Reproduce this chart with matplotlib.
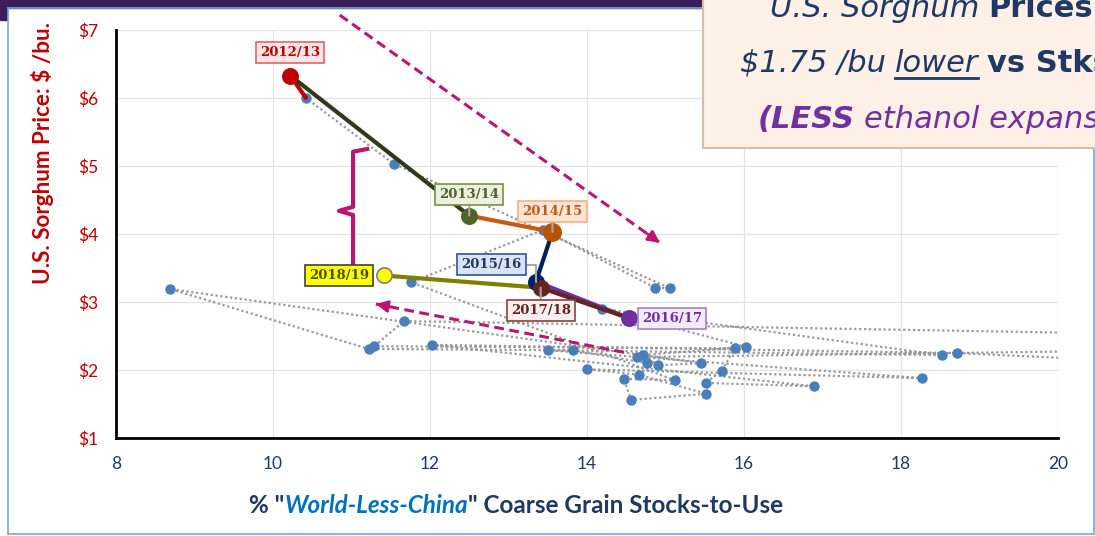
import matplotlib
matplotlib.use("Agg")
import matplotlib.pyplot as plt
from matplotlib.patches import Rectangle

plt.rcParams["font.family"] = ["Lato", "DejaVu Sans"]

# historical seasons (blue dots, joined in time order by a dotted line)
hist_x = [22.5, 11.67, 11.29, 15.88, 15.72, 15.51, 16.89, 12.03, 18.71, 21.5, 22.5, 22.0,
          14.64, 14.76, 13.82, 11.22, 8.69, 15.45, 14.90, 14.71, 16.03, 14.19, 18.52,
          13.50, 18.27, 14.00, 14.66, 15.52, 14.56, 14.47, 15.12, 11.76, 13.44, 14.87,
          15.06, 11.54, 10.42]
hist_y = [2.50, 2.72, 2.35, 2.32, 1.99, 1.81, 1.76, 2.37, 2.25, 2.10, 1.40, 2.30,
          2.19, 2.10, 2.29, 2.31, 3.19, 2.10, 2.07, 2.22, 2.34, 2.90, 2.22,
          2.29, 1.88, 2.01, 1.93, 1.65, 1.56, 1.87, 1.85, 3.29, 4.06, 3.21,
          3.20, 5.03, 6.00]

# highlighted seasons
years = ["2012/13", "2013/14", "2014/15", "2015/16", "2016/17", "2017/18", "2018/19"]
year_x = [10.22, 12.50, 13.56, 13.35, 14.54, 13.41, 11.41]
year_y = [6.33, 4.27, 4.03, 3.30, 2.76, 3.21, 3.39]
marker_colors = ["#C00000", "#4F6228", "#B85400", "#002060", "#7030A0", "#632523", "#FFFF00"]
segment_colors = ["#C00000", "#2F3A1C", "#C55A11", "#002060", "#7030A0", "#632523", "#7F7F00"]
label_text_colors = ["#C00000", "#4F6228", "#C55A11", "#1F3864", "#7030A0", "#632523", "#4D4D00"]
label_face = ["#FFE5E5", "#EBF1DE", "#FBE5D6", "#DAE3F3", "#F3EAFA", "#F7EEEE", "#FFFF00"]
label_edge = ["#E06666", "#77933C", "#F4B183", "#2F5597", "#A680C8", "#8B4040", "#404040"]
label_offsets = [(0, 16.5), (0, 15), (0, 15), (-32, 12), (31, 0), (0, -16.5), (-32, 0)]

xticks = [8, 10, 12, 14, 16, 18, 20]
yticks = [1, 2, 3, 4, 5, 6, 7]
ytick_labels = ["$1", "$2", "$3", "$4", "$5", "$6", "$7"]

# annotation shapes (data units)
brace_x = [11.20, 11.02, 11.02, 10.84, 11.02, 11.02, 11.20]
brace_y = [5.25, 5.21, 4.40, 4.34, 4.28, 3.48, 3.43]
arrow1 = [(10.85, 7.22), (14.93, 3.87)]
arrow2 = [(14.47, 2.26), (11.31, 2.97)]
accent = "#BA1570"

W, H = 1095, 536
fig = plt.figure(figsize=(W / 100, H / 100), dpi=100)
fig.patch.set_facecolor("white")
ax = fig.add_axes([116 / W, 1 - 438 / H, (1058 - 116) / W, (438 - 30) / H])
renderer = fig.canvas.get_renderer()

# slide frame bits
fig.patches.append(Rectangle((0, 1 - 8 / H), 702 / W, 8 / H, transform=fig.transFigure,
                             color="#3B1D58", zorder=1))
fig.patches.append(Rectangle((0, 1 - 20 / H), 7 / W, 20 / H, transform=fig.transFigure,
                             color="#3B1D58", zorder=1))
fig.patches.append(Rectangle((8 / W, 1 - 534 / H), 1086 / W, 526 / H, transform=fig.transFigure,
                             fill=False, ec="#6FA8DC", lw=1.2, zorder=1))

ax.set_xlim(8, 20)
ax.set_ylim(1, 7)
ax.set_xticks(xticks)
ax.set_yticks(yticks)
ax.set_yticklabels(ytick_labels)
ax.grid(True, color="#E3E3E3", lw=0.9)
ax.set_axisbelow(True)
for s in ["top", "right"]:
    ax.spines[s].set_visible(False)
for s in ["left", "bottom"]:
    ax.spines[s].set_linewidth(2)
    ax.spines[s].set_color("black")
ax.tick_params(axis="y", length=0, pad=13, labelcolor="#C00000", labelsize=12.5)
ax.tick_params(axis="x", length=0, pad=13, labelcolor="#1F3864", labelsize=12.5)

# history
ax.plot(hist_x, hist_y, color="#999999", lw=1.6, ls=(0, (1, 1.2)), zorder=2)
ax.plot(hist_x, hist_y, ls="none", marker="o", ms=6.5, color="#4A7EBB", zorder=3)

# highlighted path
prev_x, prev_y = hist_x[-1], hist_y[-1]
for i in range(len(years)):
    ax.plot([prev_x, year_x[i]], [prev_y, year_y[i]], color=segment_colors[i], lw=3,
            solid_capstyle="round", zorder=4)
    prev_x, prev_y = year_x[i], year_y[i]
for i in range(len(years)):
    ec = "#7F7F7F" if years[i] == "2018/19" else marker_colors[i]
    ms = 12.5 if years[i] == "2014/15" else 11
    ax.plot(year_x[i], year_y[i], "o", ms=ms, color=marker_colors[i], mec=ec, mew=1.2, zorder=5)

for i in range(len(years)):
    kw = {}
    if years[i] in ("2013/14", "2014/15", "2017/18"):
        kw["arrowprops"] = dict(arrowstyle="-", color="#A6A6A6", lw=1.5, shrinkA=0, shrinkB=0)
    if years[i] == "2015/16":
        kw["arrowprops"] = dict(arrowstyle="-", color="#A6A6A6", lw=1.5, shrinkA=0, shrinkB=0,
                                connectionstyle="angle,angleA=0,angleB=90,rad=0")
    ax.annotate(years[i], (year_x[i], year_y[i]), xytext=label_offsets[i],
                textcoords="offset points", ha="center", va="center",
                fontsize=9.5, fontweight="bold", family="DejaVu Serif",
                color=label_text_colors[i], zorder=7,
                bbox=dict(boxstyle="square,pad=0.3", fc=label_face[i], ec=label_edge[i], lw=1.2),
                **kw)

# brace and trend arrows
ax.plot(brace_x, brace_y, color=accent, lw=3, solid_joinstyle="round", zorder=6, clip_on=False)
for (x0, y0), (x1, y1) in [arrow1, arrow2]:
    ax.plot([x0, x1], [y0, y1], color=accent, lw=2.2, dashes=(3.2, 1.8), zorder=6, clip_on=False)
    bx = x1 - (x1 - x0) * 0.04
    by = y1 - (y1 - y0) * 0.04
    ax.annotate("", xy=(x1, y1), xytext=(bx, by), zorder=6,
                arrowprops=dict(arrowstyle="-|>,head_length=0.7,head_width=0.35",
                                color=accent, lw=2, shrinkA=0, shrinkB=0))

# axis titles
fig.text(43 / W, 1 - 284 / H, "U.S. Sorghum Price: $ /bu.", rotation=90, ha="center",
         va="bottom", fontsize=16.2, fontweight="bold", color="#C00000")


def run_of_text(x0, y_base, pieces, gap, size, family=None, center=False):
    texts = []
    for s, kw in pieces:
        extra = {"family": family} if family else {}
        texts.append(fig.text(0, 1 - y_base / H, s, ha="left", va="baseline",
                              fontsize=size, zorder=9, **extra, **kw))
    widths = [t.get_window_extent(renderer).width for t in texts]
    total = sum(widths) + gap * (len(widths) - 1)
    x = x0 - total / 2 if center else x0
    spans = []
    for t, w in zip(texts, widths):
        t.set_x(x / W)
        spans.append((x, x + w))
        x += w + gap
    return spans


run_of_text(516, 513,
            [('% "', dict(color="#1F3864", fontweight="bold")),
             ("World-Less-China", dict(color="#0070C0", fontweight="bold", style="italic")),
             ('" Coarse Grain Stocks-to-Use', dict(color="#1F3864", fontweight="bold"))],
            gap=0, size=17.5, center=True)

# comment box (cut at the slide edge)
fig.patches.append(Rectangle((703 / W, 1 - 148 / H), 400 / W, 160 / H, transform=fig.transFigure,
                             fc="#FDF0E6", ec="#D5BFA6", lw=1.5, zorder=8))
navy = "#1F3864"
purple = "#7030A0"
run_of_text(770, 17, [("U.S. Sorghum", dict(color=navy, style="italic")),
                      ("Prices", dict(color=navy, fontweight="bold")),
                      ("are", dict(color=navy, style="italic"))],
            gap=9, size=22, family="DejaVu Sans")
spans = run_of_text(740, 72, [("$1.75 /bu", dict(color=navy, style="italic")),
                              ("lower", dict(color=navy, style="italic")),
                              ("vs Stks", dict(color=navy, fontweight="bold"))],
                    gap=9, size=22, family="DejaVu Sans")
run_of_text(758, 128, [("(LESS", dict(color=purple, style="italic", fontweight="bold")),
                       ("ethanol expansion)", dict(color=purple, style="italic"))],
            gap=9, size=22, family="DejaVu Sans")
ux0, ux1 = spans[1]
fig.lines.append(plt.Line2D([ux0 / W, ux1 / W], [1 - 78 / H, 1 - 78 / H], transform=fig.transFigure,
                            color=navy, lw=2, zorder=9))

fig.savefig("out.png", dpi=100)
